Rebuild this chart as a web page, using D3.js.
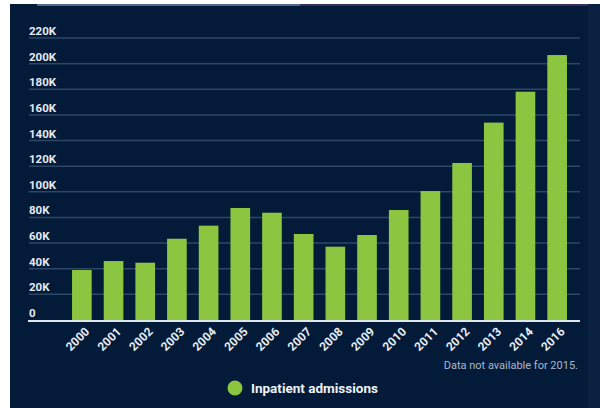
<!DOCTYPE html>
<html><head><meta charset="utf-8">
<script src="https://cdn.jsdelivr.net/npm/d3@7"></script>
<style>html,body{margin:0;padding:0;background:#fff;}svg{display:block;}</style>
</head><body>
<svg id="c" width="600" height="408"></svg>
<script>
const years = ["2000","2001","2002","2003","2004","2005","2006","2007","2008","2009","2010","2011","2012","2013","2014","2016"];
const admissions = [39000,46000,44700,63400,73600,87400,83700,67100,57200,66300,85800,100600,122500,154000,178100,206700];
const yTicks = [0,20000,40000,60000,80000,100000,120000,140000,160000,180000,200000,220000];
const yTickLabels = ["0","20K","40K","60K","80K","100K","120K","140K","160K","180K","200K","220K"];
const seriesName = "Inpatient admissions";
const note = "Data not available for 2015.";

const svg = d3.select("#c");
const font = "Roboto, 'Liberation Sans', sans-serif";

// panel
svg.append("rect").attr("x",10).attr("y",4).attr("width",590).attr("height",404).attr("fill","#031b38");
svg.append("rect").attr("x",588).attr("y",4).attr("width",12).attr("height",404).attr("fill","#0a2142");
svg.append("rect").attr("x",37).attr("y",4).attr("width",263).attr("height",2).attr("fill","#4d6a8a");
svg.append("rect").attr("x",300).attr("y",4).attr("width",288).attr("height",2).attr("fill","#3b2c5e");

const x = d3.scaleBand().domain(years).range([60,579]).paddingInner(0.38).paddingOuter(0.38);
const y = d3.scaleLinear().domain([0,220000]).range([320,38]);

// gridlines
const grid = svg.append("g");
grid.selectAll("line").data(yTicks.slice(1)).join("line")
  .attr("x1",29).attr("x2",580)
  .attr("y1",d=>y(d)).attr("y2",d=>y(d))
  .attr("stroke","#2c4768").attr("stroke-width",1.5);

// y labels
svg.append("g").selectAll("text").data(yTicks).join("text")
  .attr("x",29).attr("y",d=>y(d)-3)
  .attr("fill","#e6ebf2").attr("font-family",font).attr("font-weight","bold").attr("font-size","11.5px")
  .text((d,i)=>yTickLabels[i]);

// bars
svg.append("g").selectAll("rect").data(admissions).join("rect")
  .attr("x",(d,i)=>x(years[i])).attr("width",x.bandwidth())
  .attr("y",d=>y(d)).attr("height",d=>y(0)-y(d))
  .attr("fill","#8cc540");

// zero line
svg.append("line").attr("x1",28).attr("x2",580).attr("y1",y(0)+1).attr("y2",y(0)+1)
  .attr("stroke","#dfe6ee").attr("stroke-width",2);

// x labels
svg.append("g").selectAll("text").data(years).join("text")
  .attr("transform",d=>`translate(${x(d)+x.bandwidth()/2+2},${y(0)+6}) rotate(-45)`)
  .attr("text-anchor","end").attr("dy","0.75em")
  .attr("fill","#e6ebf2").attr("font-family",font).attr("font-weight","bold").attr("font-size","12px")
  .text(d=>d);

// note
svg.append("text").attr("x",578).attr("y",369).attr("text-anchor","end")
  .attr("fill","#aab8cc").attr("font-family",font).attr("font-size","11px").text(note);

// legend
svg.append("circle").attr("cx",235).attr("cy",388).attr("r",7.5).attr("fill","#8cc540");
svg.append("text").attr("x",251).attr("y",392.5)
  .attr("fill","#eef2f7").attr("font-family",font).attr("font-weight","bold").attr("font-size","13.5px")
  .text(seriesName);
</script>
</body></html>
